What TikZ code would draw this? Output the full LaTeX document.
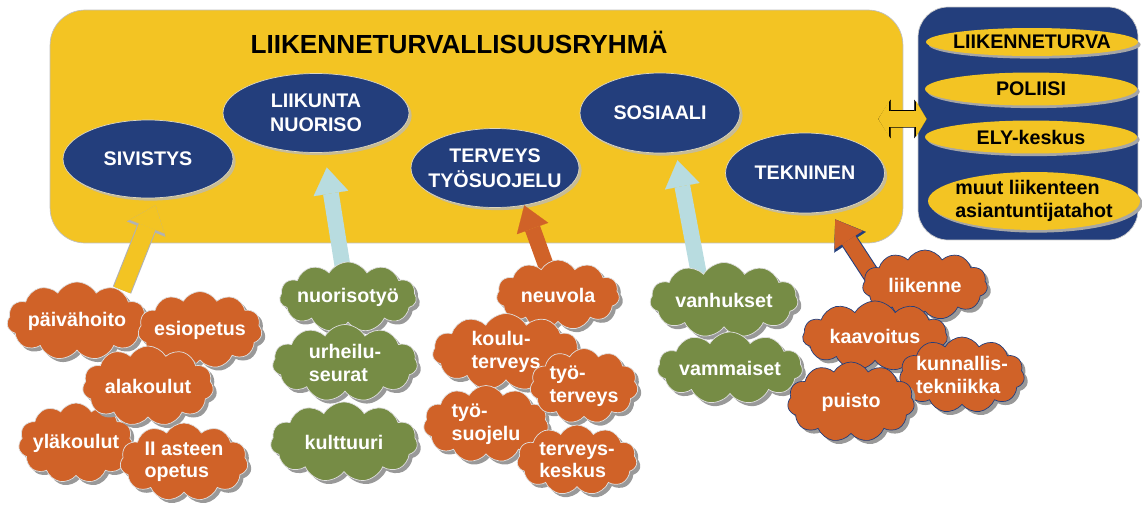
\documentclass[tikz,border=0pt]{standalone}
\usepackage{fontspec}
\setmainfont{Liberation Sans}
\usetikzlibrary{shapes.geometric,shapes.symbols,shadows,arrows.meta}
\definecolor{ryellow}{HTML}{F3C423}
\definecolor{rnavy}{HTML}{233E7C}
\definecolor{rorange}{HTML}{D06228}
\definecolor{rgreen}{HTML}{768C45}
\definecolor{rblue}{HTML}{B8DCE0}
\definecolor{rtan}{HTML}{C8BC92}

\begin{document}
\begin{tikzpicture}[x=0.02cm,y=-0.02cm,font=\bfseries\fontsize{11.2}{12.8}\selectfont]
\useasboundingbox (0,0) rectangle (1142,504);
\tikzstyle{sect}=[ellipse,draw=rtan!60,fill=rnavy,text=white,align=center,inner xsep=-2cm,inner ysep=-1cm,font=\bfseries\fontsize{11.2}{14}\selectfont,general shadow={fill=rtan,shadow xshift=1.5pt,shadow yshift=-1.5pt}]
\tikzstyle{org}=[ellipse,fill=ryellow,align=left,minimum width=4.24cm,inner xsep=-2cm,inner ysep=-1cm,general shadow={fill=gray!70,shadow xshift=1.5pt,shadow yshift=-1.5pt}]
\tikzstyle{cld}=[cloud,cloud puffs=11,cloud puff arc=120,cloud ignores aspect,align=left,text=white,draw=gray!25,inner xsep=-2cm,inner ysep=-1cm,general shadow={fill=gray!80,shadow xshift=2pt,shadow yshift=-2pt}]
\tikzstyle{ocld}=[cld,fill=rorange]
\tikzstyle{gcld}=[cld,fill=rgreen]
\tikzstyle{tcld}=[cld,fill=rorange,draw=rnavy]
\tikzstyle{yarr}=[line width=10pt,draw=ryellow,-{Triangle[width=21pt,length=13pt,line width=0.1pt,fill=ryellow]},preaction={draw=gray!60,line width=11.2pt,-{Triangle[width=23.5pt,length=14.5pt,line width=0.1pt]}}]
\tikzstyle{barr}=[line width=9pt,draw=rblue,-{Triangle[width=20pt,length=15pt,line width=0.1pt,fill=rblue]}]
\tikzstyle{oarr}=[line width=9pt,draw=rorange,-{Triangle[width=19pt,length=14pt,line width=0.1pt,fill=rorange]}]
\tikzstyle{oarrb}=[oarr,preaction={draw=rnavy,line width=10.2pt,-{Triangle[width=21.5pt,length=15.5pt,line width=0.1pt]}}]
\tikzstyle{darr}=[line width=9pt,draw=ryellow,{Triangle[width=20pt,length=6pt,line width=0.1pt,fill=ryellow]}-{Triangle[width=20pt,length=6pt,line width=0.1pt,fill=ryellow]},preaction={draw=black,line width=10pt,{Triangle[width=22pt,length=7pt,line width=0.1pt]}-{Triangle[width=22pt,length=7pt,line width=0.1pt]}}]

\node[draw=gray!50,fill=ryellow,rounded corners=0.7cm,minimum width=17.06cm,minimum height=4.66cm] (v0) at (476.5,126.5) {};
\node (t0) at (459,42) {\fontsize{14.9}{16}\selectfont LIIKENNETURVALLISUUSRYHMÄ};
\node[draw=gray!40,fill=rnavy,rounded corners=0.6cm,minimum width=4.4cm,minimum height=4.66cm] (v1) at (1028,123.5) {};

\node[org,minimum height=0.56cm] (p1) at (1032,42) {LIIKENNETURVA};
\node[org,minimum height=0.66cm] (p2) at (1031,89) {POLIISI};
\node[org,minimum height=0.66cm] (p3) at (1031,137) {ELY-keskus};
\node[org,minimum height=1.16cm] (p4) at (1034,201) {muut liikenteen\\asiantuntijatahot};
\draw[darr] ([xshift=-14.2pt,yshift=4.3pt]v0.east) -- ([xshift=5.1pt,yshift=2.6pt]v1.west);

\node[sect,minimum width=3.4cm,minimum height=1.56cm] (s1) at (148,159) {SIVISTYS};
\node[sect,minimum width=3.72cm,minimum height=1.58cm] (s2) at (316,113) {LIIKUNTA\\NUORISO};
\node[sect,minimum width=3.36cm,minimum height=1.58cm] (s3) at (495,168) {TERVEYS\\TYÖSUOJELU};
\node[sect,minimum width=3.2cm,minimum height=1.6cm] (s4) at (660,113) {SOSIAALI};
\node[sect,minimum width=3.18cm,minimum height=1.6cm] (s5) at (805,173) {TEKNINEN};

\coordinate (a1) at (122,290);
\coordinate (a2) at (346,288);
\coordinate (a3) at (553,285);
\coordinate (a4) at (700,280);
\coordinate (a5) at (876,282);
\draw[yarr,shorten >=4.5pt] (a1) -- (s1.-75);
\draw[barr,shorten >=8.5pt] (a2) -- (s2.-78);
\draw[oarr] (a3) -- (s3.-52);
\draw[barr,shorten >=4.5pt] (a4) -- (s4.-68);
\draw[oarrb,shorten >=5.5pt] (a5) -- (s5.-57);

\node[ocld,minimum width=2.8cm,minimum height=1.56cm] (c1) at (77,321) {päivähoito};
\node[ocld,minimum width=2.48cm,minimum height=1.54cm] (c2) at (200,330) {esiopetus};
\node[ocld,minimum width=2.3cm,minimum height=1.6cm] (c4) at (76,443) {yläkoulut};
\node[ocld,minimum width=2.62cm,minimum height=1.6cm] (c3) at (148,386) {alakoulut};
\node[ocld,minimum width=2.56cm,minimum height=1.56cm] (c5) at (184,462) {II asteen\\opetus};

\node[gcld,minimum width=2.74cm,minimum height=1.4cm] (g1) at (348,297) {nuorisotyö};
\node[gcld,minimum width=2.9cm,minimum height=1.54cm] (g2) at (345,363) {urheilu-\\seurat};
\node[gcld,minimum width=2.94cm,minimum height=1.6cm] (g3) at (344,442) {kulttuuri};

\node[ocld,minimum width=2.46cm,minimum height=1.4cm] (o1) at (558,295) {neuvola};
\node[ocld,minimum width=2.94cm,minimum height=1.54cm] (o2) at (506,352) {koulu-\\terveys};
\node[ocld,minimum width=2.5cm,minimum height=1.54cm] (o4) at (486,424) {työ-\\suojelu};
\node[ocld,minimum width=2.16cm,minimum height=1.5cm] (o3) at (584,386) {työ-\\terveys};
\node[ocld,minimum width=2.4cm,minimum height=1.4cm] (o5) at (577,460) {terveys-\\keskus};

\node[gcld,minimum width=2.96cm,minimum height=1.5cm] (h1) at (724,300) {vanhukset};
\node[gcld,minimum width=2.9cm,minimum height=1.44cm] (h2) at (730,368) {vammaiset};

\node[tcld,minimum width=2.5cm,minimum height=1.4cm] (k1) at (925,285) {liikenne};
\node[tcld,minimum width=2.9cm,minimum height=1.4cm] (k2) at (875,336) {kaavoitus};
\node[tcld,minimum width=2.5cm,minimum height=1.52cm] (k3) at (962,375) {kunnallis-\\tekniikka};
\node[tcld,minimum width=2.54cm,minimum height=1.6cm] (k4) at (851,402) {puisto};
\end{tikzpicture}
\end{document}
